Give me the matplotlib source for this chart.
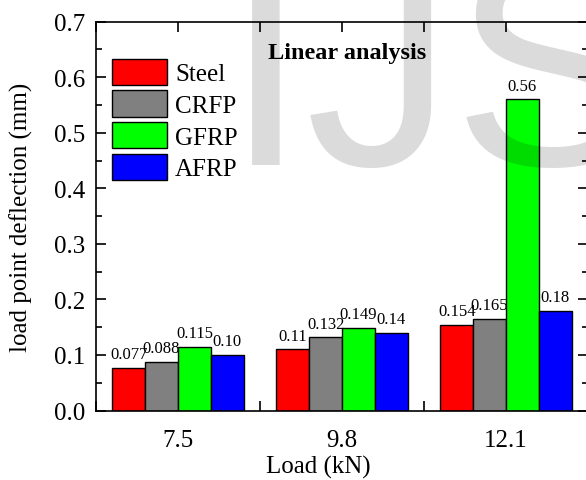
import matplotlib
matplotlib.use('Agg')
import matplotlib.pyplot as plt
import numpy as np
from matplotlib.ticker import MultipleLocator
from matplotlib import rcParams

rcParams.update({'font.family': 'serif', 'font.serif': ['Liberation Serif', 'DejaVu Serif'],
                 'font.size': 18})

# --- data --- #
loads = ['7.5', '9.8', '12.1']
materials = ['Steel', 'CRFP', 'GFRP', 'AFRP']
steel = [0.077, 0.11, 0.154]
crfp = [0.088, 0.132, 0.165]
gfrp = [0.115, 0.149, 0.56]
afrp = [0.10, 0.14, 0.18]
steel_txt = ['0.077', '0.11', '0.154']
crfp_txt = ['0.088', '0.132', '0.165']
gfrp_txt = ['0.115', '0.149', '0.56']
afrp_txt = ['0.10', '0.14', '0.18']

colors = ['#ff0000', '#808080', '#00ff00', '#0000ff']

W, H = 586, 481
fig = plt.figure(figsize=(W / 100, H / 100), dpi=100)
ax = fig.add_axes([96 / W, 1 - 411.5 / H, (588 - 96) / W, (411.5 - 22.7) / H])

x = np.arange(1, len(loads) + 1)
width = 0.2
series = [steel, crfp, gfrp, afrp]
texts = [steel_txt, crfp_txt, gfrp_txt, afrp_txt]

for i, (vals, txt) in enumerate(zip(series, texts)):
    pos = x + (i - 1.5) * width
    ax.bar(pos, vals, width, color=colors[i], edgecolor='black', linewidth=1.0,
           label=materials[i], zorder=2)
    for p, v, t in zip(pos, vals, txt):
        ax.annotate(t, (p, v), xytext=(0, 4), textcoords='offset points',
                    ha='center', va='bottom', fontsize=12, zorder=3)

ax.set_xlim(0.5, 3.5)
ax.set_ylim(0, 0.7)
ax.set_xticks(x)
ax.set_xticklabels(loads)
ax.xaxis.set_minor_locator(MultipleLocator(0.5))
ax.yaxis.set_major_locator(MultipleLocator(0.1))
ax.yaxis.set_minor_locator(MultipleLocator(0.05))
ax.yaxis.set_major_formatter(matplotlib.ticker.FormatStrFormatter('%.1f'))

ax.tick_params(which='both', direction='in', top=True, right=True, width=1.2)
ax.tick_params(which='major', length=7, pad=8)
ax.tick_params(axis='x', which='major', pad=13)
ax.tick_params(axis='y', which='minor', length=4)
ax.tick_params(axis='x', which='minor', length=7)
for s in ax.spines.values():
    s.set_linewidth(1.2)

ax.set_xlabel('Load (kN)')
ax.xaxis.set_label_coords((318 - 96) / (588 - 96), -0.115)
ax.set_ylabel('load point deflection (mm)')
ax.yaxis.set_label_coords(-0.128, 0.5)

ax.text(2.03, 0.645, 'Linear analysis', ha='center', va='center', fontsize=17.5,
        fontweight='bold')

ax.legend(loc='upper left', bbox_to_anchor=(0.033, 0.905), frameon=False,
          borderpad=0, borderaxespad=0, handlelength=2.2, handleheight=1.25,
          handletextpad=0.32, labelspacing=0.2, fontsize=18)

# journal watermark
fig.text(225 / W, 1 - 165 / H, 'IJS', fontsize=212, family='Liberation Sans',
         color='black', alpha=0.14, ha='left', va='baseline', zorder=10)

fig.savefig('out.png', dpi=100)
